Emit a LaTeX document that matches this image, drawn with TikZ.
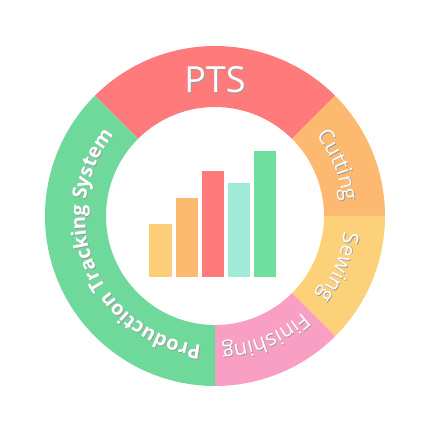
\documentclass[tikz,border=0pt]{standalone}
\usepackage{fontspec}
\setmainfont{Open Sans}
\usetikzlibrary{decorations.text}
\definecolor{cpts}{HTML}{FF7B7B}
\definecolor{ccut}{HTML}{FDB96F}
\definecolor{csew}{HTML}{FDD07A}
\definecolor{cfin}{HTML}{FA9FC4}
\definecolor{cprod}{HTML}{6FD99B}
\definecolor{cmint}{HTML}{A0EBD8}
\definecolor{cbgreen}{HTML}{6EDF9C}
\definecolor{cyel}{HTML}{FDCE78}
\definecolor{shade}{HTML}{9A9A9A}
\begin{document}
\begin{tikzpicture}[x=1pt,y=1pt,
  arclabel/.style={decorate, decoration={text along path, text align=center, text color=#1}},
  ptsfont/.style={font=\fontsize{36}{36}\selectfont}]
\useasboundingbox (0,0) rectangle (432,432);
\coordinate (c) at (215,216);
\def\Ro{170}\def\Ri{109}
% ring segments
\foreach \a/\b/\col in {45/135/cpts, 0/45/ccut, -45/0/csew, -90/-45/cfin, 135/270/cprod}
  \fill[\col, shift={(215,216)}] (\a:\Ro) arc[start angle=\a, end angle=\b, radius=\Ro]
     -- (\b:\Ri) arc[start angle=\b, end angle=\a, radius=\Ri] -- cycle;
% PTS
\node[ptsfont, text=shade, inner sep=0pt] (ptsshadow) at (216,351) {PTS};
\node[ptsfont, text=white, inner sep=0pt] (pts) at (215,352) {PTS};
% curved labels (shadow then white)
\foreach \dx/\dy/\tc in {0.8/-0.8/shade, 0/0/white}{
  \path[shift={(215+\dx,216+\dy)}, arclabel=\tc, decoration={text={|\fontsize{21.5}{21.5}\selectfont|Cutting}}]
    (45:129) arc[start angle=45, end angle=0, radius=129];
  \path[shift={(215+\dx,216+\dy)}, arclabel=\tc, decoration={text={|\fontsize{21.5}{21.5}\selectfont|Sewing}}]
    (0:130) arc[start angle=0, end angle=-45, radius=130];
  \path[shift={(215+\dx,216+\dy)}, arclabel=\tc, decoration={text={|\fontsize{21.5}{21.5}\selectfont|Finishing}}]
    (-45:130) arc[start angle=-45, end angle=-90, radius=130];
  \path[shift={(215+\dx,216+\dy)}, arclabel=\tc, decoration={text={|\fontsize{20}{20}\selectfont\bfseries|Production Tracking System}}]
    (-90:130) arc[start angle=-90, end angle=-225, radius=130];
}
% bar chart
\fill[cyel] (149.3,155) rectangle (171.7,208);
\fill[ccut] (175.7,155) rectangle (197.7,234.3);
\fill[cpts] (201.7,155) rectangle (224,261.3);
\fill[cmint] (228,155) rectangle (250,248.7);
\fill[cbgreen] (254,155) rectangle (276,281);
\end{tikzpicture}
\end{document}
